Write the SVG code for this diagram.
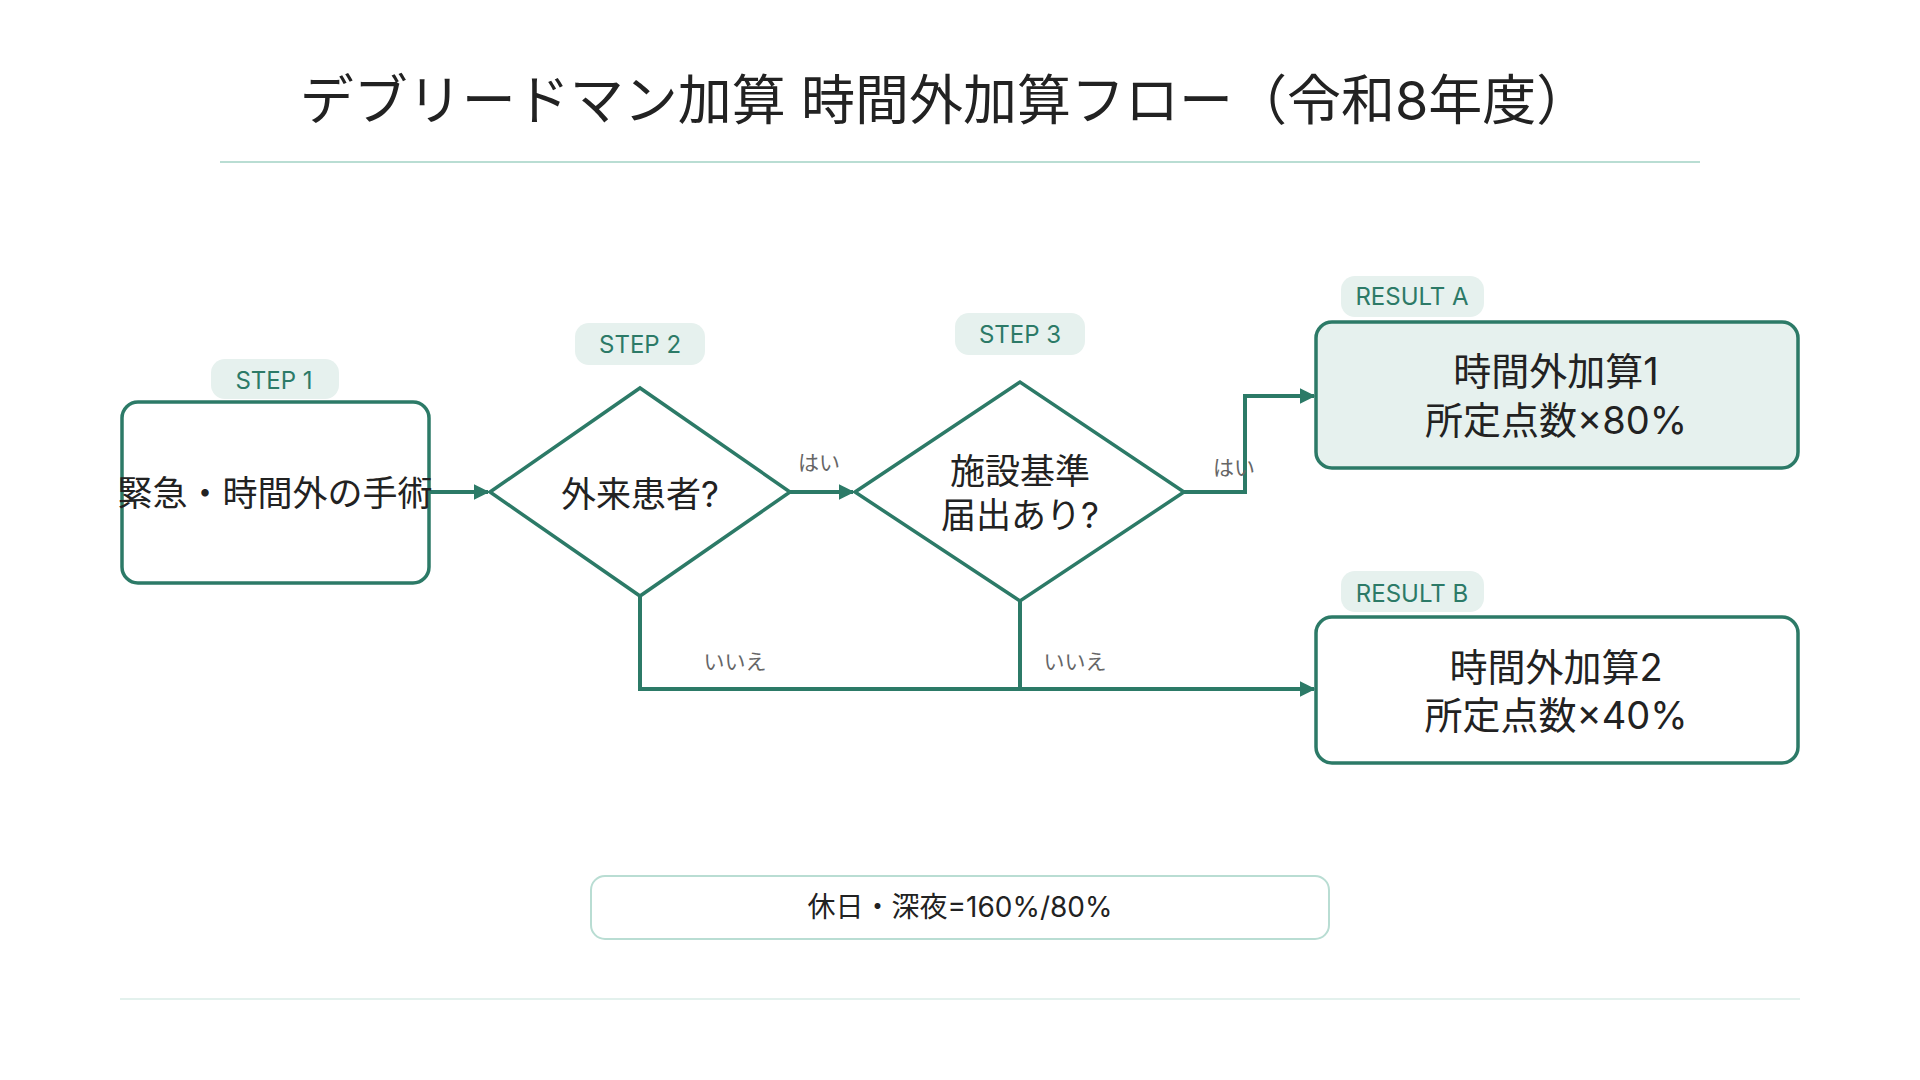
<svg xmlns="http://www.w3.org/2000/svg" width="1920" height="1080" viewBox="0 0 1920 1080">
<style>
text{font-family:"Inter","Noto Sans CJK JP",sans-serif;text-anchor:middle;dominant-baseline:central}
.node{fill:#fff;stroke:#2c7a67;stroke-width:3.5}
.pill{fill:#e6f1ee}
.pt{fill:#2c7a67;font-size:24px}
.nt{fill:#222;font-size:35px}
.rt{fill:#222;font-size:38px}
.lbl{fill:#666;font-size:21px}
.con{fill:none;stroke:#2c7a67;stroke-width:4}
</style>
<defs><marker id="a" viewBox="0 0 10 10" refX="9" refY="5" markerWidth="4" markerHeight="4" orient="auto"><path d="M0,0L10,5L0,10z" fill="#2c7a67"/></marker></defs>
<rect width="1920" height="1080" fill="#fff"/>
<text x="945" y="100" font-size="54" fill="#222">デブリードマン加算 時間外加算フロー（令和8年度）</text>
<line x1="220" y1="162" x2="1700" y2="162" stroke="#b9ddd3" stroke-width="2"/>
<line x1="120" y1="999" x2="1800" y2="999" stroke="#e3f1ed" stroke-width="2"/>
<g id="connectors">
<path class="con" d="M429,492H488" marker-end="url(#a)"/>
<path class="con" d="M790,492H853" marker-end="url(#a)"/>
<path class="con" d="M1184,492H1245V396H1314" marker-end="url(#a)"/>
<path class="con" d="M640,596V689H1314" marker-end="url(#a)"/>
<path class="con" d="M1020,601V689"/>
<text class="lbl" x="819" y="462">はい</text>
<text class="lbl" x="1234" y="467">はい</text>
<text class="lbl" x="735" y="661">いいえ</text>
<text class="lbl" x="1075" y="661">いいえ</text>
</g>
<g id="step1">
<rect class="pill" x="211" y="359" width="128" height="40" rx="14"/>
<text class="pt" x="274" y="380">STEP 1</text>
<rect class="node" x="122" y="402" width="307" height="181" rx="16"/>
<text class="nt" x="275" y="493">緊急・時間外の手術</text>
</g>
<g id="step2">
<rect class="pill" x="575" y="323" width="130" height="42" rx="14"/>
<text class="pt" x="640" y="344">STEP 2</text>
<path class="node" d="M490,492L640,388L790,492L640,596z"/>
<text class="nt" x="640" y="494">外来患者?</text>
</g>
<g id="step3">
<rect class="pill" x="955" y="313" width="130" height="42" rx="14"/>
<text class="pt" x="1020" y="334">STEP 3</text>
<path class="node" d="M855,492L1020,382L1184,492L1020,601z"/>
<text class="nt" x="1020" y="471">施設基準</text>
<text class="nt" x="1020" y="515">届出あり?</text>
</g>
<g id="resultA">
<rect class="pill" x="1341" y="276" width="143" height="41" rx="14"/>
<text class="pt" x="1412" y="296">RESULT A</text>
<rect class="node" x="1316" y="322" width="482" height="146" rx="16" style="fill:#e6f1ee"/>
<text class="rt" x="1556" y="371">時間外加算1</text>
<text class="rt" x="1556" y="420">所定点数×80%</text>
</g>
<g id="resultB">
<rect class="pill" x="1341" y="571" width="143" height="41" rx="14"/>
<text class="pt" x="1412" y="593">RESULT B</text>
<rect class="node" x="1316" y="617" width="482" height="146" rx="16"/>
<text class="rt" x="1556" y="667">時間外加算2</text>
<text class="rt" x="1556" y="715">所定点数×40%</text>
</g>
<g id="note">
<rect x="591" y="876" width="738" height="63" rx="14" fill="#fff" stroke="#b9ddd3" stroke-width="2"/>
<text x="960" y="907" font-size="28" fill="#222">休日・深夜=160%/80%</text>
</g>
</svg>
